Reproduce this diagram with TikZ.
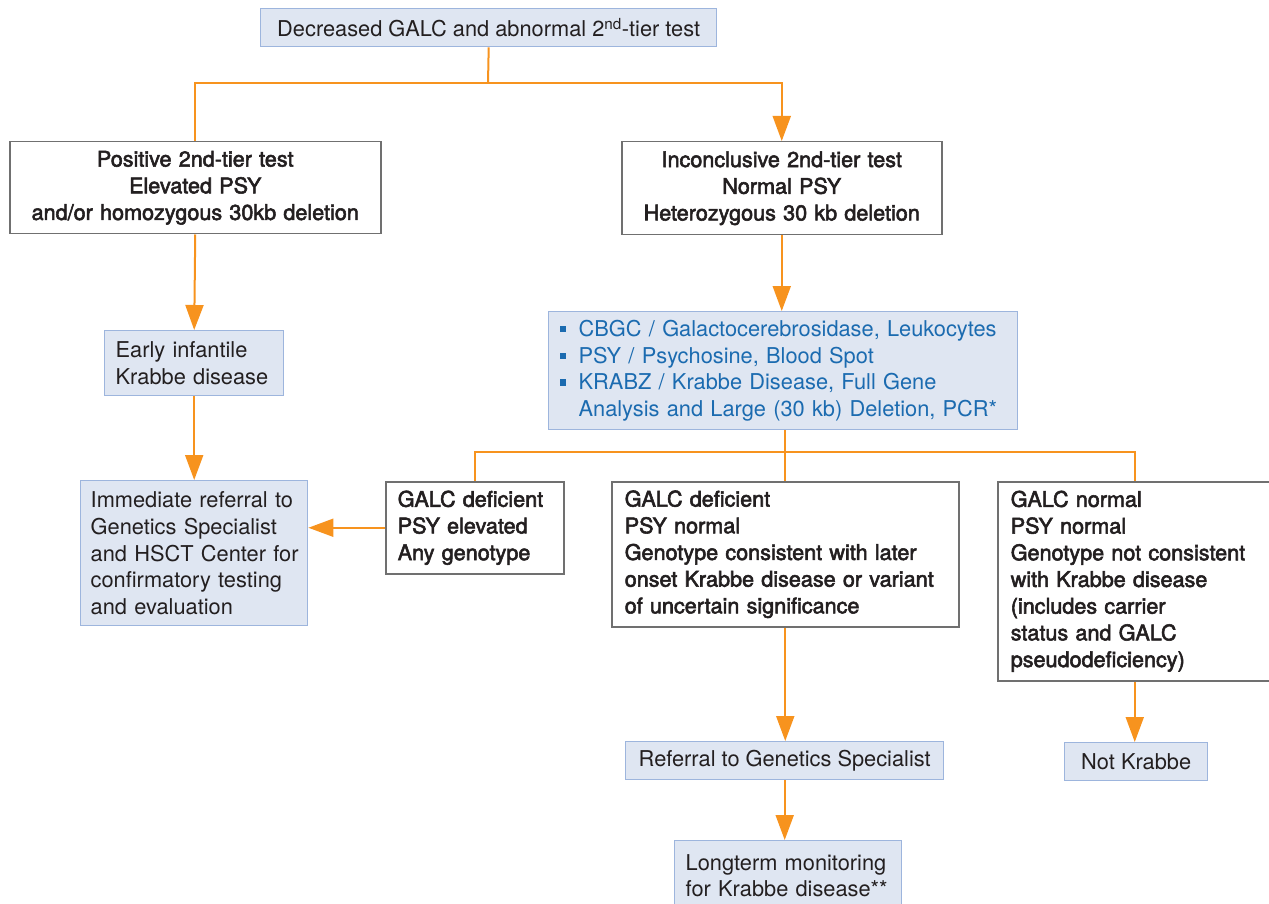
\documentclass[tikz,border=0pt]{standalone}
\usepackage{fontspec}
\setmainfont{TeX Gyre Heros}
\newfontfamily\medfont[FakeBold=2.5]{TeX Gyre Heros}
\usetikzlibrary{arrows.meta}
\definecolor{boxfill}{HTML}{DFE6F2}
\definecolor{boxline}{HTML}{9DB5DD}
\definecolor{grayline}{HTML}{707070}
\definecolor{orng}{HTML}{F7931E}
\definecolor{txt}{HTML}{231F20}
\definecolor{bluetxt}{HTML}{1B6BB0}
\tikzset{
  base/.style={anchor=north west, inner xsep=12pt, inner ysep=0pt, text=txt,
    font=\fontsize{21.8}{26.7}\selectfont},
  bluebox/.style={base, fill=boxfill, draw=boxline, line width=1.4pt},
  whitebox/.style={base, fill=white, draw=grayline, line width=1.5pt,
    font=\fontsize{21.6}{26.7}\selectfont\medfont},
  ln/.style={draw=orng, line width=2pt},
  arr/.style={ln, -{Triangle[length=25pt,width=18pt]}, shorten >=0pt},
}
\newcommand{\sqb}{\makebox[19pt][l]{\raisebox{4pt}{\rule{6.5pt}{6.5pt}}}}
\begin{document}
\begin{tikzpicture}[x=1pt,y=-1pt]
\useasboundingbox (0,0) rectangle (1269,904);
% boxes
\node[bluebox, minimum width=456, minimum height=38, align=center] (top) at (260,8) {Decreased GALC and abnormal 2\textsuperscript{nd}-tier test};
\node[whitebox, minimum width=371, minimum height=92, text width=361, inner xsep=5pt, align=center] (pos) at (9,141)
  {Positive 2nd-tier test\\Elevated PSY\\and/or homozygous 30kb deletion};
\node[whitebox, minimum width=320, minimum height=93, text width=310, inner xsep=5pt, align=center] (inc) at (621,141)
  {Inconclusive 2nd-tier test\\Normal PSY\\Heterozygous 30 kb deletion};
\node[bluebox, minimum width=179, minimum height=65, text width=157, inner xsep=11pt, align=left] (early) at (104,330)
  {Early infantile\\Krabbe disease};
\node[bluebox, minimum width=227, minimum height=145, text width=211, inner xsep=8pt, align=left] (imm) at (80,480)
  {\hspace*{2pt}Immediate referral to\\\hspace*{2pt}Genetics Specialist\\\hspace*{2pt}and HSCT Center for\\\hspace*{2pt}confirmatory testing\\\hspace*{2pt}and evaluation};
\node[bluebox, minimum width=469, minimum height=118, text width=447, inner xsep=11pt, align=left] (list) at (548,311)
  {\color{bluetxt}\sqb CBGC / Galactocerebrosidase, Leukocytes\\
   \sqb PSY / Psychosine, Blood Spot\\
   \sqb KRABZ / Krabbe Disease, Full Gene\\
   \hspace*{19pt}Analysis and Large (30 kb) Deletion, PCR*};
\node[whitebox, minimum width=178, minimum height=92, text width=154, align=left] (gd1) at (385,481)
  {GALC deficient\\PSY elevated\\Any genotype};
\node[whitebox, minimum width=347, minimum height=145, text width=321, inner xsep=13pt, align=left] (gd2) at (611,481)
  {GALC deficient\\PSY normal\\Genotype consistent with later\\onset Krabbe disease or variant\\of uncertain significance};
\node[whitebox, minimum width=274, minimum height=199, text width=248, inner xsep=13pt, align=left] (gn) at (997,481)
  {GALC normal\\PSY normal\\Genotype not consistent\\with Krabbe disease\\(includes carrier\\status and GALC\\pseudodeficiency)};
\node[bluebox, minimum width=318, minimum height=38, align=center] (ref) at (625,741)
  {Referral to Genetics Specialist};
\node[bluebox, minimum width=227, minimum height=70, text width=205, inner xsep=11pt, align=left] (long) at (674,840)
  {Longterm monitoring\\for Krabbe disease**};
\node[bluebox, minimum width=143, minimum height=38, align=left] (nk) at (1064,742)
  {Not Krabbe};
% connectors
\coordinate (j1) at (488,83);
\coordinate (j2) at (785,452);
\draw[ln] (top.south) -- (j1);
\draw[ln] (pos.north) |- (j1);
\draw[arr] (j1) -| (inc.north);
\draw[arr] (pos.south) -- (early.north);
\draw[arr] (early.south) -- (imm.north -| early.south);
\draw[arr] (inc.south) -- (list.north -| inc.south);
\draw[ln] (list.south -| j2) -- (j2);
\draw[ln] (j2) -| (gd1.north);
\draw[ln] (j2) -- (gd2.north -| j2);
\draw[ln] (j2) -| (gn.north);
\draw[arr] (gd1.west) -- (imm.east |- gd1.west);
\draw[arr] (gd2.south) -- (ref.north -| gd2.south);
\draw[arr] (ref.south) -- (long.north -| ref.south);
\draw[arr] (gn.south) -- (nk.north -| gn.south);
\end{tikzpicture}
\end{document}
